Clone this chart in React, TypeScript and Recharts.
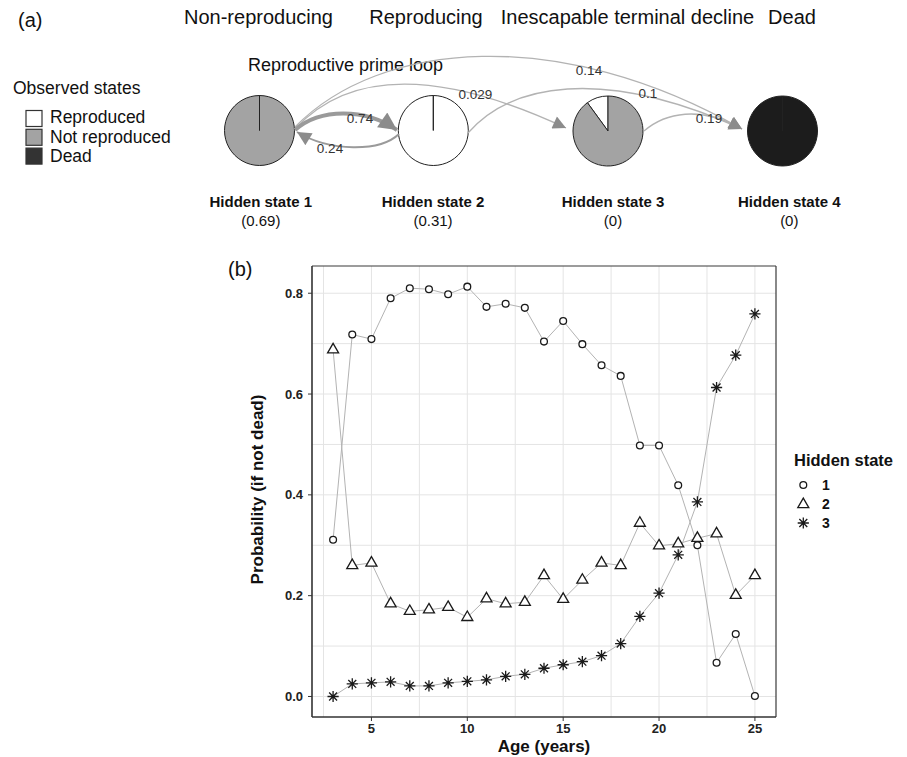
import React from 'react';
import { PieChart, Pie, Cell, LineChart, Line, XAxis, YAxis, CartesianGrid, ReferenceLine } from 'recharts';

// ---------- data: panel (a) ----------
const stateNames = ['Non-reproducing', 'Reproducing', 'Inescapable terminal decline', 'Dead'];
const hiddenStateLabels = ['Hidden state 1', 'Hidden state 2', 'Hidden state 3', 'Hidden state 4'];
const initialProbs = ['(0.69)', '(0.31)', '(0)', '(0)'];
const observedStates = ['Reproduced', 'Not reproduced', 'Dead'];
// emission probabilities per hidden state: [Reproduced, Not reproduced, Dead]
const emissions = [
  [0, 1, 0],
  [1, 0, 0],
  [0.1, 0.9, 0],
  [0, 0, 1],
];
const transitionLabels = ['0.74', '0.24', '0.029', '0.14', '0.1', '0.19'];

// ---------- data: panel (b) ----------
const ages = [3, 4, 5, 6, 7, 8, 9, 10, 11, 12, 13, 14, 15, 16, 17, 18, 19, 20, 21, 22, 23, 24, 25];
const state1 = [0.311, 0.718, 0.709, 0.79, 0.81, 0.808, 0.798, 0.813, 0.773, 0.779, 0.771, 0.704, 0.745, 0.699, 0.657, 0.636, 0.498, 0.498, 0.419, 0.3, 0.067, 0.124, 0.001];
const state2 = [0.688, 0.26, 0.265, 0.184, 0.169, 0.172, 0.177, 0.157, 0.194, 0.184, 0.187, 0.24, 0.193, 0.231, 0.265, 0.26, 0.344, 0.299, 0.303, 0.314, 0.323, 0.201, 0.24];
const state3 = [0, 0.025, 0.027, 0.029, 0.021, 0.021, 0.027, 0.03, 0.033, 0.04, 0.044, 0.056, 0.063, 0.069, 0.081, 0.105, 0.159, 0.205, 0.281, 0.386, 0.613, 0.677, 0.759];
const xTicks = [5, 10, 15, 20, 25];
const yTicks = [0, 0.2, 0.4, 0.6, 0.8];
const xGrid = [2.5, 5, 7.5, 10, 12.5, 15, 17.5, 20, 22.5, 25];
const yGrid = [0, 0.1, 0.2, 0.3, 0.4, 0.5, 0.6, 0.7, 0.8];
const legendLabels = ['1', '2', '3'];

const FONT = '"Liberation Sans", Arial, Helvetica, sans-serif';
const obsFill = ['#ffffff', '#a3a3a3', '#1c1c1c'];

const chartData = ages.map((a, i) => ({ age: a, s1: state1[i], s2: state2[i], s3: state3[i] }));

const circleShape = (cx: number, cy: number, k: string) => (
  <circle key={k} cx={cx} cy={cy} r={3.4} fill="#fff" stroke="#1a1a1a" strokeWidth={1.3} />
);
const triShape = (cx: number, cy: number, k: string) => {
  const w = 11, h = 9.5;
  const pts = `${cx},${cy - (2 * h) / 3} ${cx + w / 2},${cy + h / 3} ${cx - w / 2},${cy + h / 3}`;
  return <polygon key={k} points={pts} fill="#fff" stroke="#1a1a1a" strokeWidth={1.3} strokeLinejoin="miter" />;
};
const starShape = (cx: number, cy: number, k: string) => {
  const a = 5.6, d = a / Math.SQRT2;
  const p = `M${cx - a},${cy}L${cx + a},${cy}M${cx},${cy - a}L${cx},${cy + a}M${cx - d},${cy - d}L${cx + d},${cy + d}M${cx - d},${cy + d}L${cx + d},${cy - d}`;
  return <path key={k} d={p} stroke="#1a1a1a" strokeWidth={1.3} fill="none" />;
};

const mkDot = (fn: (cx: number, cy: number, k: string) => React.ReactElement, tag: string) => (props: any) => {
  if (props.cx == null || props.cy == null) return <g key={`${tag}-${props.index}`} />;
  return fn(props.cx, props.cy, `${tag}-${props.index}`);
};

const pieCenters = [
  { cx: 259.5, cy: 130.5 },
  { cx: 433.3, cy: 130.5 },
  { cx: 608, cy: 131 },
  { cx: 782.5, cy: 131 },
];
const labelCenters = [260.8, 433, 613, 789.3];
const topNameX = [258.5, 426, 627.5, 792];

export default function App() {
  return (
    <div style={{ position: 'absolute', left: 0, top: 0, width: 907, height: 757, background: '#fff', fontFamily: FONT }}>
      <div style={{ position: 'absolute', left: 0, top: 0 }}>
        <PieChart width={907} height={240} margin={{ top: 0, right: 0, bottom: 0, left: 0 }}>
          {emissions.map((em, s) => (
            <Pie
              key={`pie${s}`}
              data={observedStates.map((name, i) => ({ name, value: em[i] }))}
              dataKey="value"
              cx={pieCenters[s].cx}
              cy={pieCenters[s].cy}
              outerRadius={35}
              startAngle={90}
              endAngle={450}
              isAnimationActive={false}
              label={false}
              labelLine={false}
              stroke="#222"
              strokeWidth={1}
            >
              {observedStates.map((n, i) => (
                <Cell key={n} fill={obsFill[i]} stroke="#222" strokeWidth={1} />
              ))}
            </Pie>
          ))}
        </PieChart>
      </div>

      <div style={{ position: 'absolute', left: 0, top: 240 }}>
        <LineChart width={907} height={517} data={chartData} margin={{ top: 26, right: 131, left: 262, bottom: 10 }}>
          <CartesianGrid stroke="#e4e4e4" strokeWidth={1} horizontalValues={yGrid} verticalValues={xGrid} />
          <XAxis
            dataKey="age"
            type="number"
            domain={[1.9, 26.1]}
            allowDataOverflow
            ticks={xTicks}
            height={30}
            tickSize={4}
            tickMargin={3}
            stroke="#333"
            axisLine={{ stroke: '#333', strokeWidth: 1.6 }}
            tickLine={{ stroke: '#333' }}
            tick={{ fontSize: 13, fontWeight: 'bold', fill: '#222', fontFamily: FONT }}
          />
          <YAxis
            type="number"
            domain={[-0.0407, 0.854]}
            allowDataOverflow
            ticks={yTicks}
            width={50}
            tickSize={4}
            tickMargin={5}
            tickFormatter={(v: number) => v.toFixed(1)}
            axisLine={{ stroke: '#333', strokeWidth: 1.6 }}
            tickLine={{ stroke: '#333' }}
            tick={{ fontSize: 13, fontWeight: 'bold', fill: '#222', fontFamily: FONT }}
          />
          <ReferenceLine y={0.854} stroke="#3a3a3a" strokeWidth={1.2} />
          <ReferenceLine x={26.1} stroke="#3a3a3a" strokeWidth={1.2} />
          <Line dataKey="s1" type="linear" stroke="#b3b3b3" strokeWidth={1} dot={false} activeDot={false} isAnimationActive={false} />
          <Line dataKey="s2" type="linear" stroke="#b3b3b3" strokeWidth={1} dot={false} activeDot={false} isAnimationActive={false} />
          <Line dataKey="s3" type="linear" stroke="#b3b3b3" strokeWidth={1} dot={false} activeDot={false} isAnimationActive={false} />
          <Line dataKey="s1" type="linear" stroke="none" dot={mkDot(circleShape, 'c')} activeDot={false} isAnimationActive={false} />
          <Line dataKey="s2" type="linear" stroke="none" dot={mkDot(triShape, 't')} activeDot={false} isAnimationActive={false} />
          <Line dataKey="s3" type="linear" stroke="none" dot={mkDot(starShape, 's')} activeDot={false} isAnimationActive={false} />
        </LineChart>
      </div>

      <svg width={907} height={757} style={{ position: 'absolute', left: 0, top: 0, pointerEvents: 'none' }} fontFamily={FONT}>
        <defs>
          <marker id="ah" viewBox="0 0 10 10" refX="10" refY="5" markerWidth="18" markerHeight="13" markerUnits="userSpaceOnUse" orient="auto">
            <path d="M0,0L10,5L0,10z" fill="#8c8c8c" />
          </marker>
          <marker id="ahBig" viewBox="0 0 10 10" refX="10" refY="5" markerWidth="24" markerHeight="18" markerUnits="userSpaceOnUse" orient="auto">
            <path d="M0,0L10,5L0,10z" fill="#8c8c8c" />
          </marker>
          <marker id="ahMid" viewBox="0 0 10 10" refX="10" refY="5" markerWidth="19" markerHeight="14" markerUnits="userSpaceOnUse" orient="auto">
            <path d="M0,0L10,5L0,10z" fill="#8c8c8c" />
          </marker>
        </defs>

        {/* panel (a) text */}
        <text x={18} y={27} fontSize={20} fill="#111">(a)</text>
        {stateNames.map((n, i) => (
          <text key={n} x={topNameX[i]} y={24} fontSize={20} textAnchor="middle" fill="#111">{n}</text>
        ))}
        <text x={248} y={71} fontSize={18} fill="#111">Reproductive prime loop</text>
        <text x={13} y={94} fontSize={17.5} fill="#111">Observed states</text>
        {observedStates.map((n, i) => (
          <g key={n}>
            <rect x={26} y={110.5 + i * 18.8} width={16} height={16} fill={obsFill[i] === '#1c1c1c' ? '#333' : obsFill[i]} stroke="#333" strokeWidth={1.2} />
            <text x={50} y={123 + i * 19.5} fontSize={17.5} fill="#111">{n}</text>
          </g>
        ))}
        {hiddenStateLabels.map((n, i) => (
          <g key={n}>
            <text x={labelCenters[i]} y={207} fontSize={15} fontWeight="bold" textAnchor="middle" fill="#111">{n}</text>
            <text x={labelCenters[i]} y={226} fontSize={15} textAnchor="middle" fill="#111">{initialProbs[i]}</text>
          </g>
        ))}

        {/* transitions */}
        <path d="M295,127 C380,40 560,25 742,129" fill="none" stroke="#b3b3b3" strokeWidth={1.3} markerEnd="url(#ah)" />
        <path d="M295,129 C340,80 420,60 566,128" fill="none" stroke="#b3b3b3" strokeWidth={1.3} markerEnd="url(#ah)" />
        <path d="M468,133 C510,85 600,65 742,129" fill="none" stroke="#b3b3b3" strokeWidth={1.3} markerEnd="url(#ah)" />
        <path d="M644,131 C665,113 700,105 742,129" fill="none" stroke="#b3b3b3" strokeWidth={1.3} markerEnd="url(#ah)" />
        <path d="M295,130 C320,108 365,108 397,130" fill="none" stroke="#9a9a9a" strokeWidth={4} markerEnd="url(#ahBig)" />
        <path d="M399,134 C380,152 330,152 297,132" fill="none" stroke="#9a9a9a" strokeWidth={2} markerEnd="url(#ahMid)" />

        {[
          { x: 360, y: 118 },
          { x: 330, y: 148 },
          { x: 475.5, y: 94 },
          { x: 589, y: 70 },
          { x: 648, y: 93.5 },
          { x: 709, y: 118 },
        ].map((p, i) => (
          <text key={transitionLabels[i]} x={p.x} y={p.y} fontSize={13.5} textAnchor="middle" dominantBaseline="central" fill="#333">
            {transitionLabels[i]}
          </text>
        ))}

        {/* panel (b) text */}
        <text x={228} y={276} fontSize={20} fill="#111">(b)</text>
        <text x={544} y={752} fontSize={17} fontWeight="bold" textAnchor="middle" fill="#111">Age (years)</text>
        <text
          x={257.5}
          y={489.5}
          fontSize={17}
          fontWeight="bold"
          textAnchor="middle"
          dominantBaseline="central"
          transform="rotate(-90 257.5 489.5)"
          fill="#111"
        >
          Probability (if not dead)
        </text>

        {/* legend */}
        <text x={794} y={466} fontSize={16.5} fontWeight="bold" fill="#111">Hidden state</text>
        {circleShape(803.3, 485, 'lg1')}
        {triShape(803.3, 504.5, 'lg2')}
        {starShape(803.3, 523, 'lg3')}
        {legendLabels.map((l, i) => (
          <text key={l} x={822} y={[485, 504, 523][i]} fontSize={14} fontWeight="bold" dominantBaseline="central" fill="#111">
            {l}
          </text>
        ))}
      </svg>
    </div>
  );
}
